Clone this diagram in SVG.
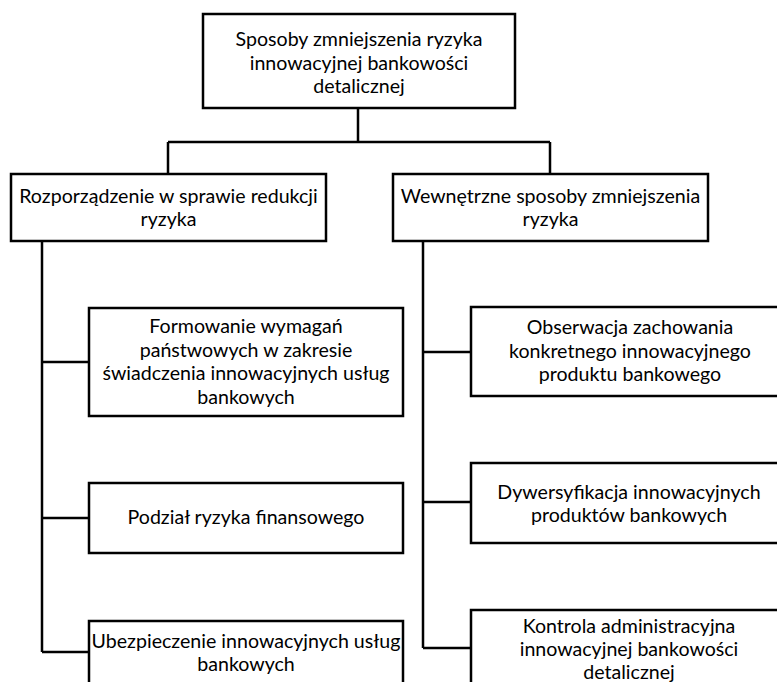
<svg xmlns="http://www.w3.org/2000/svg" width="777" height="682" viewBox="0 0 777 682">
<style>
rect.box{fill:#fff;stroke:#000;stroke-width:2.5}
.conn path{fill:none;stroke:#000;stroke-width:2.5}
text{font-family:Lato,"Liberation Sans",sans-serif;font-size:19.6px;fill:#000;text-anchor:middle}
</style>
<rect width="777" height="682" fill="#fff"/>
<g class="conn" id="connectors">
<path d="M358,108V142M168,142H550M168,142V174M550,142V174"/>
<path d="M42,241V652M42,362H89M42,518H89M42,652H89"/>
<path d="M423,241V648M423,352H471M423,502H471M423,648H471"/>
</g>
<g id="root">
<rect class="box" x="203" y="14" width="312" height="94"/>
<text x="359"><tspan x="359" y="46">Sposoby zmniejszenia ryzyka</tspan><tspan x="359" y="69.5">innowacyjnej bankowości</tspan><tspan x="359" y="93">detalicznej</tspan></text>
</g>
<g id="left">
<rect class="box" x="11" y="174" width="315" height="67"/>
<text><tspan x="168.5" y="203">Rozporządzenie w sprawie redukcji</tspan><tspan x="168.5" y="226">ryzyka</tspan></text>
</g>
<g id="right">
<rect class="box" x="393" y="174" width="315" height="67"/>
<text><tspan x="550.5" y="203">Wewnętrzne sposoby zmniejszenia</tspan><tspan x="550.5" y="226">ryzyka</tspan></text>
</g>
<g id="formowanie">
<rect class="box" x="89" y="308" width="314" height="108"/>
<text><tspan x="246" y="333">Formowanie wymagań</tspan><tspan x="246" y="356.5">państwowych w zakresie</tspan><tspan x="246" y="380">świadczenia innowacyjnych usług</tspan><tspan x="246" y="403.5">bankowych</tspan></text>
</g>
<g id="podzial">
<rect class="box" x="89" y="483" width="314" height="70"/>
<text><tspan x="246" y="524">Podział ryzyka finansowego</tspan></text>
</g>
<g id="ubezpieczenie">
<rect class="box" x="89" y="621" width="314" height="80"/>
<text><tspan x="246" y="648">Ubezpieczenie innowacyjnych usług</tspan><tspan x="246" y="671">bankowych</tspan></text>
</g>
<g id="obserwacja">
<rect class="box" x="471" y="307" width="320" height="89"/>
<text><tspan x="630" y="334">Obserwacja zachowania</tspan><tspan x="630" y="357.5">konkretnego innowacyjnego</tspan><tspan x="630" y="381">produktu bankowego</tspan></text>
</g>
<g id="dywersyfikacja">
<rect class="box" x="471" y="463" width="320" height="80"/>
<text><tspan x="629" y="499">Dywersyfikacja innowacyjnych</tspan><tspan x="629" y="522">produktów bankowych</tspan></text>
</g>
<g id="kontrola">
<rect class="box" x="471" y="610" width="320" height="90"/>
<text><tspan x="629" y="633">Kontrola administracyjna</tspan><tspan x="629" y="656">innowacyjnej bankowości</tspan><tspan x="629" y="679">detalicznej</tspan></text>
</g>
</svg>
